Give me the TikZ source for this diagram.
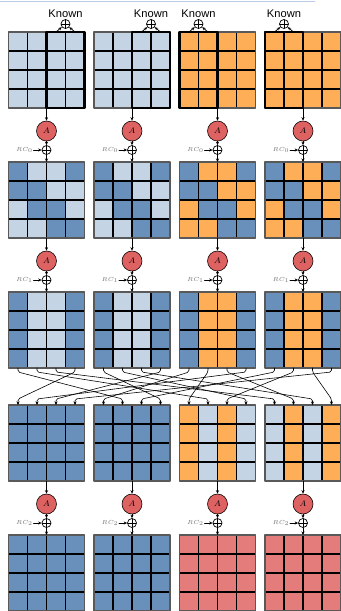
\documentclass[tikz,border=0pt]{standalone}
\usepackage{fontspec}
\newfontfamily\knownfont{Liberation Sans}
\usetikzlibrary{arrows.meta,calc}

\definecolor{cl}{HTML}{C4D4E4}
\definecolor{cd}{HTML}{6890BA}
\definecolor{co}{HTML}{FDAE57}
\definecolor{cr}{HTML}{E47C7C}
\definecolor{anodefill}{HTML}{DF6262}
\definecolor{topline}{HTML}{BACDE4}

\tikzset{
  cellline/.style={black, line width=0.9pt},
  gridedge/.style={black!65, line width=1.1pt},
  knownbox/.style={black, line width=2.2pt},
  conn/.style={-{Stealth[length=3pt,width=2.6pt]}, line width=0.6pt},
  wire/.style={-{Stealth[length=3pt,width=2.6pt]}, line width=0.5pt, rounded corners=1.5pt},
  anode/.style={circle, draw, fill=anodefill, line width=0.5pt, minimum size=0.6cm, inner sep=0pt, font=\fontsize{7}{7}\selectfont},
  xornode/.style={circle, draw, line width=0.6pt, minimum size=0.27cm, inner sep=0pt,
    path picture={\draw[line width=0.6pt] (path picture bounding box.north) -- (path picture bounding box.south)
      (path picture bounding box.west) -- (path picture bounding box.east);}},
  rclabel/.style={text=black!55, inner sep=0.5pt, font=\fontsize{4.5}{5}\selectfont},
  knownlabel/.style={inner sep=0pt, font=\knownfont\fontsize{9.5}{10}\selectfont}
}

% one 4x4 state: name, x, y (top left), sixteen cell colours row by row
\newcommand{\drawstate}[4]{%
  \foreach \c [count=\k from 0] in {#4} {
    \pgfmathtruncatemacro\cx{mod(\k,4)}
    \pgfmathtruncatemacro\cy{floor(\k/4)}
    \fill[\c] ({#2+19*\cx},{#3+19*\cy}) rectangle ++(19,19);
  }
  \foreach \j in {1,2,3} {
    \draw[cellline] ({#2+19*\j},#3) -- ++(0,76);
    \draw[cellline] (#2,{#3+19*\j}) -- ++(76,0);
  }
  \draw[gridedge] (#2,#3) rectangle ++(76,76);
  \foreach \j in {1,...,4} {
    \coordinate (#1-t\j) at ({#2+19*\j-9.5},#3);
    \coordinate (#1-b\j) at ({#2+19*\j-9.5},{#3+76});
  }
  \coordinate (#1-n) at ({#2+38},#3);
  \coordinate (#1-s) at ({#2+38},{#3+76});
}

% one round: upper state, lower state, name, constant index
\newcommand{\roundstep}[4]{%
  \node[anode] (#3a) at ($(#1-s)+(0,23)$) {$A$};
  \node[xornode] (#3x) at ($(#1-s)+(0,42)$) {};
  \node[rclabel, anchor=east] (#3r) at ($(#3x)+(-13,0)$) {$RC_{#4}$};
  \draw[conn] (#1-s) -- (#3a);
  \draw[conn] (#3a) -- (#3x);
  \draw[conn] (#3r) -- (#3x);
  \draw[conn] (#3x) -- (#2-n);
}

% known columns xored together: state, left column, right column, name
\newcommand{\knowntop}[4]{%
  \draw[knownbox] ($(#1-t#2)+(-9.5,0)$) rectangle ($(#1-b#3)+(9.5,0)$);
  \node[xornode] (#4x) at ($(#1-t#2)!0.5!(#1-t#3)+(0,-8)$) {};
  \node[knownlabel, anchor=south] (#4k) at ($(#4x)+(0,-6)$) {Known};
  \draw[conn] (#1-t#2) -- (#4x);
  \draw[conn] (#1-t#3) -- (#4x);
}

\begin{document}
\begin{tikzpicture}[x=0.03cm, y=-0.03cm, line cap=round, line join=round]
  \useasboundingbox (0,0) rectangle (341,611);
  \draw[topline, line width=0.8pt] (0,1) -- (315,1);

  % states, one row per stage
  \drawstate{s1a}{8.5}{32}{cl,cl,cl,cl,cl,cl,cl,cl,cl,cl,cl,cl,cl,cl,cl,cl}
  \drawstate{s1b}{94}{32}{cl,cl,cl,cl,cl,cl,cl,cl,cl,cl,cl,cl,cl,cl,cl,cl}
  \drawstate{s1c}{179.5}{32}{co,co,co,co,co,co,co,co,co,co,co,co,co,co,co,co}
  \drawstate{s1d}{265}{32}{co,co,co,co,co,co,co,co,co,co,co,co,co,co,co,co}

  \drawstate{s2a}{8.5}{162}{cd,cl,cl,cd,cd,cd,cl,cl,cl,cd,cd,cl,cl,cl,cd,cd}
  \drawstate{s2b}{94}{162}{cd,cl,cl,cd,cd,cd,cl,cl,cl,cd,cd,cl,cl,cl,cd,cd}
  \drawstate{s2c}{179.5}{162}{cd,co,co,cd,cd,cd,co,co,co,cd,cd,co,co,co,cd,cd}
  \drawstate{s2d}{265}{162}{cd,co,co,cd,cd,cd,co,co,co,cd,cd,co,co,co,cd,cd}

  \drawstate{s3a}{8.5}{292}{cd,cl,cl,cd,cd,cl,cl,cd,cd,cl,cl,cd,cd,cl,cl,cd}
  \drawstate{s3b}{94}{292}{cd,cl,cl,cd,cd,cl,cl,cd,cd,cl,cl,cd,cd,cl,cl,cd}
  \drawstate{s3c}{179.5}{292}{cd,co,co,cd,cd,co,co,cd,cd,co,co,cd,cd,co,co,cd}
  \drawstate{s3d}{265}{292}{cd,co,co,cd,cd,co,co,cd,cd,co,co,cd,cd,co,co,cd}

  \drawstate{s4a}{8.5}{405}{cd,cd,cd,cd,cd,cd,cd,cd,cd,cd,cd,cd,cd,cd,cd,cd}
  \drawstate{s4b}{94}{405}{cd,cd,cd,cd,cd,cd,cd,cd,cd,cd,cd,cd,cd,cd,cd,cd}
  \drawstate{s4c}{179.5}{405}{co,cl,co,cl,co,cl,co,cl,co,cl,co,cl,co,cl,co,cl}
  \drawstate{s4d}{265}{405}{cl,co,cl,co,cl,co,cl,co,cl,co,cl,co,cl,co,cl,co}

  \drawstate{s5a}{8.5}{535}{cd,cd,cd,cd,cd,cd,cd,cd,cd,cd,cd,cd,cd,cd,cd,cd}
  \drawstate{s5b}{94}{535}{cd,cd,cd,cd,cd,cd,cd,cd,cd,cd,cd,cd,cd,cd,cd,cd}
  \drawstate{s5c}{179.5}{535}{cr,cr,cr,cr,cr,cr,cr,cr,cr,cr,cr,cr,cr,cr,cr,cr}
  \drawstate{s5d}{265}{535}{cr,cr,cr,cr,cr,cr,cr,cr,cr,cr,cr,cr,cr,cr,cr,cr}

  % known columns
  \knowntop{s1a}{3}{4}{ka}
  \knowntop{s1b}{3}{4}{kb}
  \knowntop{s1c}{1}{2}{kc}
  \knowntop{s1d}{1}{2}{kd}

  % rounds
  \foreach \g in {a,b,c,d} {
    \roundstep{s1\g}{s2\g}{r0\g}{0}
    \roundstep{s2\g}{s3\g}{r1\g}{1}
    \roundstep{s4\g}{s5\g}{r2\g}{2}
  }

  % column mix
  \foreach \src/\dst in {s3a-b4/s4a-t1, s3c-b4/s4a-t2, s3b-b4/s4a-t3, s3d-b4/s4a-t4,
                         s3c-b1/s4b-t1, s3a-b1/s4b-t2, s3d-b1/s4b-t3, s3b-b1/s4b-t4,
                         s3c-b2/s4c-t1, s3a-b2/s4c-t2, s3d-b2/s4c-t3, s3b-b2/s4c-t4,
                         s3a-b3/s4d-t1, s3c-b3/s4d-t2, s3b-b3/s4d-t3, s3d-b3/s4d-t4}
    \draw[wire] (\src) -- ++(0,4) -- ($(\dst)+(0,-6)$) -- (\dst);
\end{tikzpicture}
\end{document}
